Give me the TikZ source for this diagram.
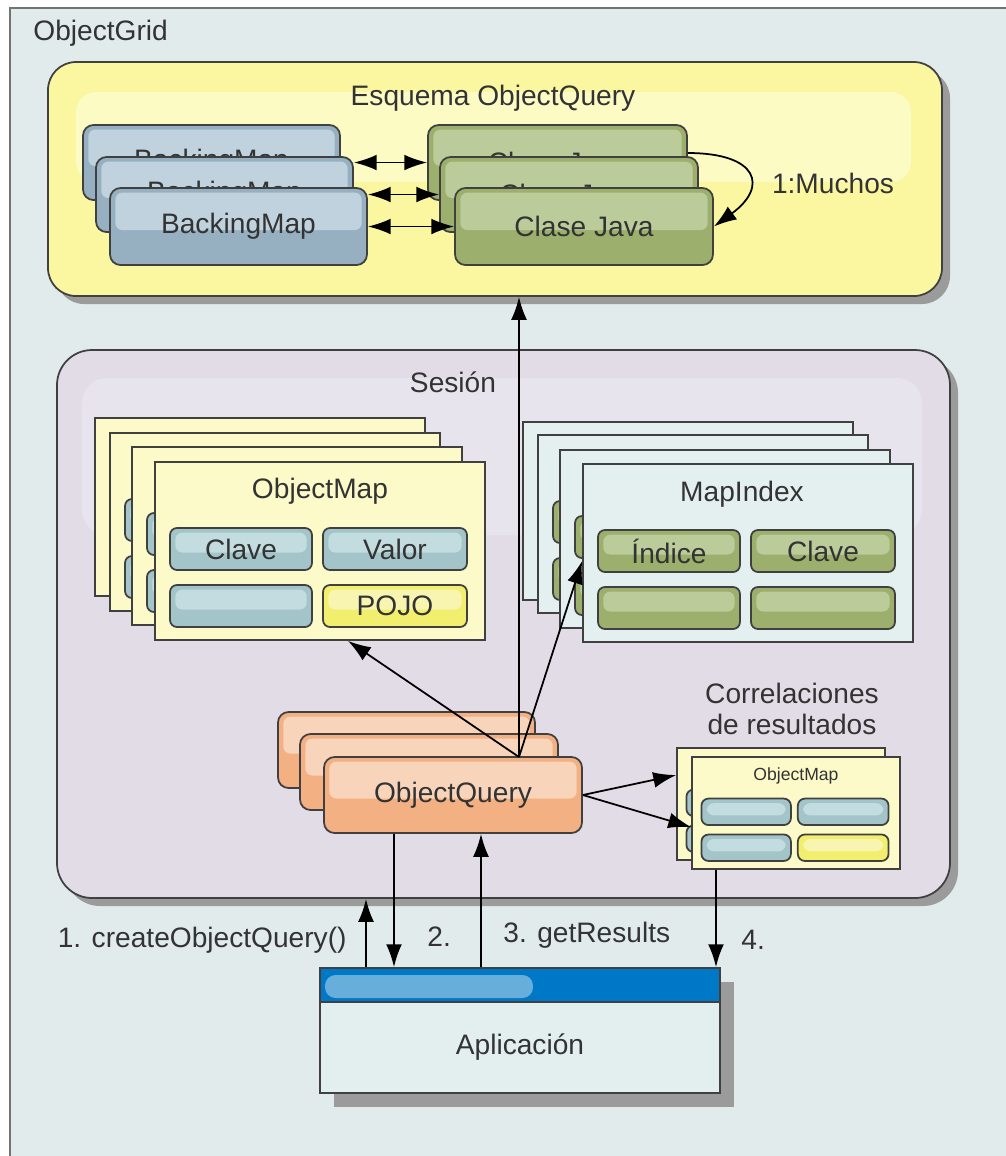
\documentclass[tikz,border=0pt]{standalone}
\usepackage{fontspec}
\setmainfont{Liberation Sans}
\usetikzlibrary{arrows.meta,fit,shadows,calc}

\definecolor{gridbg}{HTML}{E1EBEC}
\definecolor{schemafill}{HTML}{FAF7A0}
\definecolor{schemalight}{HTML}{FCFBC4}
\definecolor{sessionfill}{HTML}{E2DCE6}
\definecolor{sessionlight}{HTML}{E7E4EE}
\definecolor{bmdark}{HTML}{97B0C1}
\definecolor{bmlight}{HTML}{BFD2DD}
\definecolor{cjdark}{HTML}{9CAF6C}
\definecolor{cjlight}{HTML}{BBCB99}
\definecolor{oqdark}{HTML}{F2B083}
\definecolor{oqlight}{HTML}{F8D4BA}
\definecolor{omfill}{HTML}{FCFAC8}
\definecolor{mifill}{HTML}{E4EFEF}
\definecolor{celldark}{HTML}{A3C5C9}
\definecolor{celllight}{HTML}{C3DCDF}
\definecolor{pojodark}{HTML}{F2EE6E}
\definecolor{pojolight}{HTML}{F8F5B0}
\definecolor{appbar}{HTML}{0078C8}
\definecolor{appgloss}{HTML}{67AEDB}
\definecolor{appfill}{HTML}{E3EEEF}
\definecolor{shade}{HTML}{9B9B9B}
\definecolor{ink}{HTML}{333333}

\tikzset{
  gloss/.style={path picture={\fill[#1,rounded corners=2pt]
    ([xshift=1.5pt,yshift=-1.3pt]path picture bounding box.north west) rectangle
    ([xshift=-1.5pt,yshift=-1pt]path picture bounding box.east);}},
  boxline/.style={draw=black!75, line width=0.5pt, inner sep=0pt},
  groupbox/.style={boxline, rounded corners=#1,
    drop shadow={shadow xshift=0.08cm, shadow yshift=-0.08cm, fill=shade, opacity=1}},
  appshadow/.style={drop shadow={shadow xshift=0.14cm, shadow yshift=-0.14cm, fill=shade, opacity=1}},
  bmbox/.style={boxline, rounded corners=3pt, fill=bmdark, gloss=bmlight},
  cjbox/.style={boxline, rounded corners=3pt, fill=cjdark, gloss=cjlight},
  oqbox/.style={boxline, rounded corners=3pt, fill=oqdark, gloss=oqlight},
  omcard/.style={boxline, fill=omfill},
  micard/.style={boxline, fill=mifill},
  omcell/.style={boxline, rounded corners=2pt, fill=celldark, gloss=celllight},
  omlast/.style={boxline, rounded corners=2pt, fill=pojodark, gloss=pojolight},
  micell/.style={boxline, rounded corners=2pt, fill=cjdark, gloss=cjlight},
  milast/.style={micell},
  flow/.style={->, line width=0.5pt},
  twoway/.style={<->, line width=0.5pt}
}

% card with four cells: name, x, y, size factor, kind (om/mi), three cell texts
\newcommand\mapcard[8]{%
  \node[#5card, fit={(#2,#3) (#2+#4*330,#3+#4*178)}] (#1) {};
  \node[#5cell, fit={(#2+#4*15,#3+#4*66) (#2+#4*157,#3+#4*108)}, label=center:{#6}] (#1-a) {};
  \node[#5cell, fit={(#2+#4*168,#3+#4*66) (#2+#4*312,#3+#4*108)}, label=center:{#7}] (#1-b) {};
  \node[#5cell, fit={(#2+#4*15,#3+#4*123) (#2+#4*157,#3+#4*165)}] (#1-c) {};
  \node[#5last, fit={(#2+#4*168,#3+#4*123) (#2+#4*312,#3+#4*165)}, label=center:{#8}] (#1-d) {};
}

\begin{document}
\begin{tikzpicture}[x=0.01cm, y=-0.01cm, font=\fontsize{8}{8.6}\selectfont, text=ink,
  >={Latex[length=6.5pt,width=4.5pt]}]
	\useasboundingbox (0,0) rectangle (1006,1156);
	\fill[white] (0,0) rectangle (1006,1156);

	%grid
	\node[boxline, draw=black!55, fill=gridbg, fit={(10,8) (1040,1190)}] (grid) {};
	\node[anchor=base west] (gridname) at (21,40) {ObjectGrid};

	%schema
	\node[groupbox=0.28cm, fill=schemafill, fit={(48,62) (942,296)}] (schema) {};
	\fill[schemalight, rounded corners=0.2cm] (76,92) rectangle (911,182);
	\node (schemaname) at (493,98) {Esquema ObjectQuery};

	\node[bmbox, fit={(83,125) (340,200)}, label=center:BackingMap] (bm1) {};
	\node[bmbox, fit={(96,157) (353,232)}, label=center:BackingMap] (bm2) {};
	\node[bmbox, fit={(110,188) (367,265)}, label=center:BackingMap] (bm3) {};
	\node[cjbox, fit={(428,125) (687,200)}, label=center:Clase Java] (cj1) {};
	\node[cjbox, fit={(440,157) (698,232)}, label=center:Clase Java] (cj2) {};
	\node[cjbox, fit={(455,188) (713,265)}, label=center:Clase Java] (cj3) {};

	\draw[twoway] (bm2.east |- cj1.west) -- (cj1.west);
	\draw[twoway] (bm3.east |- cj2.west) -- (cj2.west);
	\draw[twoway] (bm3.east) -- (cj3.west);
	\draw[flow] ([yshift=2.7pt]cj1.east) .. controls +(70,0) and +(55,-40) .. (cj3.east);
	\node (manyname) at (833,183) {1:Muchos};

	%session
	\node[groupbox=0.35cm, fill=sessionfill, fit={(57,350) (950,898)}] (session) {};
	\fill[sessionlight, rounded corners=0.25cm] (82,378) rectangle (922,535);
	\node (sessionname) at (453,382) {Sesión};

	\mapcard{om1}{95}{418}{1}{om}{}{}{}
	\mapcard{om2}{110}{433}{1}{om}{}{}{}
	\mapcard{om3}{132}{447}{1}{om}{}{}{}
	\mapcard{om4}{155}{462}{1}{om}{Clave}{Valor}{POJO}
	\node (omname) at ($(om4.north)+(0,30)$) {ObjectMap};

	\mapcard{mi1}{523}{422}{1}{mi}{}{}{}
	\mapcard{mi2}{538}{435}{1}{mi}{}{}{}
	\mapcard{mi3}{560}{450}{1}{mi}{}{}{}
	\mapcard{mi4}{583}{464}{1}{mi}{Índice}{Clave}{}
	\node (miname) at ($(mi4.north)+(-6,31)$) {MapIndex};

	\node[oqbox, fit={(278,712) (535,788)}] (oq1) {};
	\node[oqbox, fit={(300,734) (558,810)}] (oq2) {};
	\node[oqbox, fit={(324,757) (582,833)}, label=center:ObjectQuery] (oq3) {};
	\coordinate (hub) at (519,757);

	\draw[flow] (hub) -- (hub |- schema.south);
	\draw[flow] (hub) -- ($(om4.south)+(28,0)$);
	\draw[flow] (hub) -- ($(mi4.west)+(0,8)$);

	%result maps
	\node[align=center] (corrname) at (792,709) {Correlaciones\\de resultados};
	\mapcard{sc1}{677}{748}{0.63}{om}{}{}{}
	\mapcard{sc2}{692}{757}{0.63}{om}{}{}{}
	\node[font=\fontsize{5}{6}\selectfont] (scname) at ($(sc2.north)+(0,20)$) {ObjectMap};
	\draw[flow] (oq3.east) -- ($(sc1.west)+(0,-29)$);
	\draw[flow] (oq3.east) -- ($(sc2.west)+(0,14)$);

	%application
	\node[boxline, appshadow, fill=appbar, fit={(320,968) (720,1002)}] (appbar) {};
	\fill[appgloss, rounded corners=3pt] (325,975) rectangle (533,998);
	\node[boxline, appshadow, fill=appfill, fit={(320,1002) (720,1093)}, label=center:Aplicación] (app) {};

	%calls
	\coordinate (s1) at (366,935);
	\coordinate (s2) at (394,935);
	\coordinate (s3) at (481,935);
	\coordinate (s4) at (716,935);
	\draw[flow] (appbar.north -| s1) -- (session.south -| s1);
	\draw[flow] (oq3.south -| s2) -- (appbar.north -| s2);
	\draw[flow] (appbar.north -| s3) -- (oq3.south -| s3);
	\draw[flow] (sc2.south -| s4) -- (appbar.north -| s4);
	\node[anchor=east] (step1) at (359,940) {1. createObjectQuery()};
	\node[anchor=west] (step2) at (415,937) {2.};
	\node[anchor=west] (step3) at (491,935) {3. getResults};
	\node[anchor=west] (step4) at (729,940) {4.};
\end{tikzpicture}
\end{document}
